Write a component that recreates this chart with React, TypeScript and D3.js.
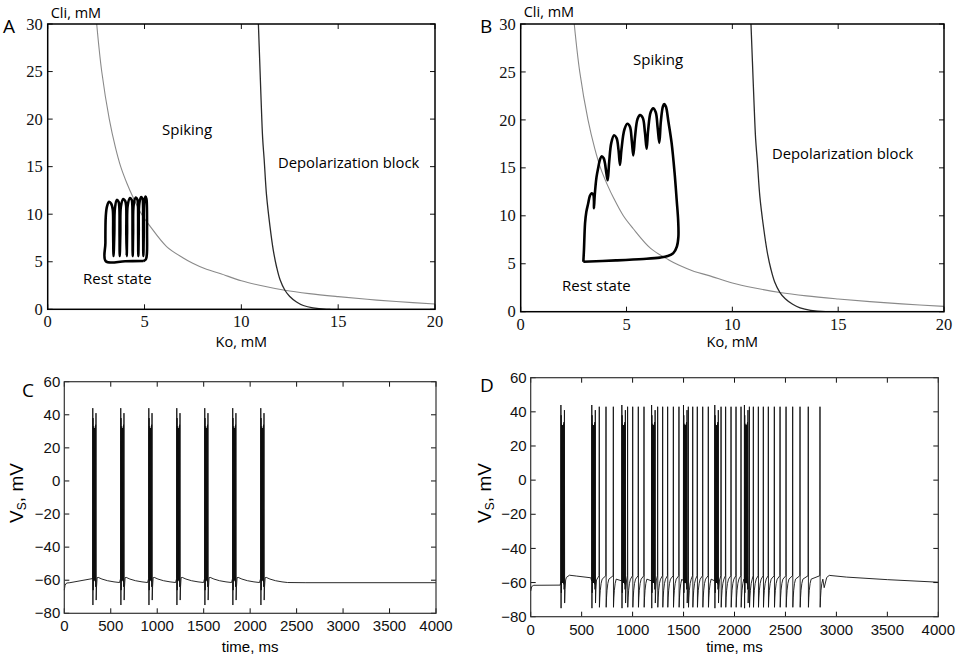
import * as d3 from 'd3';
import React from 'react';

// ---- panels A/B: Ko–Cli plane ----
const koTicks = [0, 5, 10, 15, 20];
const cliTicks = [0, 5, 10, 15, 20, 25, 30];

// gray boundary between rest and spiking
const restBoundary: [number, number][] = [
  [2.53, 30], [2.79, 25], [3.18, 20], [3.5, 17], [3.77, 15], [4.1, 13.2], [4.39, 11.85],
  [4.85, 10], [5.3, 8.7], [6.14, 6.6], [7.0, 5.4], [7.49, 4.84], [8.2, 4.2], [8.9, 3.76],
  [10, 3.0], [11, 2.5], [12.25, 2.0], [13.5, 1.65], [15, 1.33], [16.5, 1.05], [18, 0.82], [20, 0.56],
];

// black boundary between spiking and depolarization block
const blockBoundary: [number, number][] = [
  [10.88, 30], [10.95, 26], [11.02, 22], [11.1, 18], [11.18, 15.7], [11.3, 12], [11.48, 8.7],
  [11.65, 6.2], [11.82, 4.45], [12.0, 3.1], [12.25, 2.0], [12.5, 1.35], [12.85, 0.77],
  [13.2, 0.4], [13.7, 0.14], [14.4, 0], [14.6, 0],
];

// trajectory in panel A
const trajA: [number, number][] = [
  [4.95, 5.08], [4.0, 5.06], [3.0, 5.05], [2.98, 7], [3.0, 9.8], [3.06, 10.8], [3.17, 11.3], [3.28, 11.1],
  [3.36, 10.5], [3.38, 8], [3.4, 5.6], [3.44, 8], [3.47, 10.6], [3.57, 11.5], [3.66, 11.3], [3.7, 10.7],
  [3.71, 8], [3.72, 5.6], [3.75, 8], [3.78, 10.8], [3.9, 11.6], [4.0, 11.4], [4.05, 10.9], [4.06, 8],
  [4.08, 5.6], [4.1, 8], [4.13, 10.9], [4.25, 11.7], [4.34, 11.5], [4.37, 11.0], [4.38, 8], [4.39, 5.6],
  [4.41, 8], [4.44, 11.0], [4.55, 11.75], [4.63, 11.55], [4.66, 11.1], [4.67, 8], [4.68, 5.6], [4.7, 8],
  [4.73, 11.1], [4.83, 11.8], [4.9, 11.6], [4.92, 11.2], [4.93, 8], [4.94, 5.6], [4.96, 8], [4.98, 11.2],
  [5.05, 11.85], [5.1, 11.6], [5.12, 11.0], [5.13, 8], [5.12, 5.8], [5.07, 5.25], [4.95, 5.08],
];

// trajectory in panel B
const trajB: [number, number][] = [
  [2.96, 5.21], [2.99, 6.5], [3.04, 9.2], [3.1, 10.4], [3.19, 11.3], [3.27, 12.1], [3.35, 12.35],
  [3.43, 12.2], [3.46, 11.6], [3.46, 10.78], [3.5, 12.2], [3.58, 14], [3.67, 15.1], [3.75, 15.9],
  [3.83, 16.2], [3.92, 16.0], [3.98, 15.5], [4.05, 14.4], [4.11, 13.7], [4.18, 15.6], [4.28, 17.6],
  [4.41, 18.4], [4.53, 18.1], [4.62, 16.9], [4.69, 15.3], [4.76, 16.9], [4.9, 19.0], [5.04, 19.6],
  [5.16, 19.3], [5.25, 17.8], [5.32, 16.3], [5.4, 18.2], [5.52, 20.1], [5.64, 20.5], [5.77, 20.2],
  [5.87, 18.7], [5.95, 17.0], [6.02, 18.9], [6.14, 20.8], [6.26, 21.2], [6.38, 20.8], [6.47, 19.2],
  [6.55, 17.6], [6.62, 19.8], [6.72, 21.4], [6.78, 21.65], [6.86, 21.4], [6.98, 19.8], [7.13, 17.6],
  [7.27, 14.5], [7.37, 11.65], [7.44, 9.5], [7.45, 7.8], [7.38, 6.8], [7.21, 6.1], [6.95, 5.8],
  [6.58, 5.64], [5.8, 5.5], [4.5, 5.35], [2.96, 5.21],
];

// ---- panels C/D: membrane voltage traces ----
const timeTicks = [0, 500, 1000, 1500, 2000, 2500, 3000, 3500, 4000];
const vTicks = [-80, -60, -40, -20, 0, 20, 40, 60];

// one burst, [ms after onset, mV]
const burstWave: [number, number][] = [
  [0, -59], [1.5, 44], [3, -75], [4.5, 38], [6, -66], [7.5, 33], [9, -60], [10.5, 32], [12, -60],
  [13.5, 32], [15, -60], [16.5, 32], [18, -60], [19.5, 32], [21, -60], [22.5, 32], [24, -60],
  [25.5, 32], [27, -60], [28.5, 33], [30, -61], [31.5, 34], [33, -64], [36, 41], [38, -72],
  [42, -64], [48, -58.5],
];
// slow recovery after a burst in C
const burstDecayC: [number, number][] = [
  [60, -58.3], [100, -59.3], [160, -60.3], [230, -61], [290, -61.4],
];
// single spike with after-hyperpolarization
const spikeWave: [number, number][] = [
  [-2, -56], [0, 43], [1.5, -74.5], [5, -69], [10, -64.5], [18, -60.5], [28, -58],
];

const burstOnsetsC = [305, 606, 908, 1209, 1510, 1811, 2113];
const restC: [number, number][] = [[0, -66], [8, -63], [25, -61.7], [60, -61.5], [2600, -61.5], [4000, -61.5]];

const burstOnsetsD = [295, 598, 893, 1185, 1498, 1805, 2096];
const spikeTimesD = [
  673, 739, 811, 951, 1001, 1056, 1112, 1246, 1295, 1344, 1400, 1455, 1547, 1590, 1635, 1688,
  1743, 1868, 1913, 1966, 2015, 2064, 2146, 2185, 2234, 2283, 2332, 2391, 2447, 2506, 2571,
  2643, 2724, 2839,
];
const restD: [number, number][] = [
  [0, -65], [10, -62.3], [30, -61.6], [290, -61.5], [350, -57], [380, -55.7], [450, -56.2],
  [590, -57.2], [2880, -63], [2905, -57], [2930, -55.8], [3100, -56.8], [3500, -58.3], [4000, -59.8],
];

type Ev = { t: number; wave: [number, number][] };
const buildTrace = (events: Ev[], rest: [number, number][]) => {
  const evs = [...events].sort((a, b) => a.t - b.t);
  const pts: [number, number][] = [];
  evs.forEach((e, i) => {
    const next = i < evs.length - 1 ? evs[i + 1].t + evs[i + 1].wave[0][0] : Infinity;
    e.wave.forEach(([dt, v]) => {
      if (e.t + dt < next) pts.push([e.t + dt, v]);
    });
  });
  rest.forEach((p) => pts.push(p));
  return pts.sort((a, b) => a[0] - b[0]);
};

const traceC = buildTrace(
  burstOnsetsC.map((t) => ({ t, wave: [...burstWave, ...burstDecayC] })),
  restC
);
const traceD = buildTrace(
  [
    ...burstOnsetsD.map((t) => ({ t, wave: burstWave })),
    ...spikeTimesD.map((t) => ({ t, wave: spikeWave })),
  ],
  restD
);

const SANS = "'Open Sans', 'Noto Sans', sans-serif";
const HELV = "'Liberation Sans', Arial, sans-serif";
const SERIF = "'Liberation Serif', 'DejaVu Serif', serif";

type Box = { left: number; right: number; top: number; bottom: number };

const fmt = d3.format('d');

// box with inward ticks on all four sides (MATLAB style)
const Frame = ({ box, x, y, xTicks, yTicks, font, size, padX, padY, color, width }: any) => {
  const tick = 5;
  const txt = { fontFamily: font, fontSize: `${size}px` };
  return (
    <g>
      {xTicks.map((t: number) => (
        <g key={`x${t}`}>
          <line x1={x(t)} x2={x(t)} y1={box.bottom} y2={box.bottom - tick} stroke="#111" />
          <line x1={x(t)} x2={x(t)} y1={box.top} y2={box.top + tick} stroke="#111" />
          <text x={x(t)} y={box.bottom + padX} textAnchor="middle" style={txt} fill="#111">
            {fmt(t)}
          </text>
        </g>
      ))}
      {yTicks.map((t: number) => (
        <g key={`y${t}`}>
          <line x1={box.left} x2={box.left + tick} y1={y(t)} y2={y(t)} stroke="#111" />
          <line x1={box.right} x2={box.right - tick} y1={y(t)} y2={y(t)} stroke="#111" />
          <text x={box.left - padY} y={y(t)} dy="0.34em" textAnchor="end" style={txt} fill="#111">
            {fmt(t)}
          </text>
        </g>
      ))}
      <rect
        x={box.left}
        y={box.top}
        width={box.right - box.left}
        height={box.bottom - box.top}
        fill="none"
        stroke={color}
        strokeWidth={width}
      />
    </g>
  );
};

const PhasePanel = ({ box, traj, letter, labels }: any) => {
  const x = d3.scaleLinear().domain([0, 20]).range([box.left, box.right]);
  const y = d3.scaleLinear().domain([0, 30]).range([box.bottom, box.top]);
  const smooth = d3.line<[number, number]>().x((d) => x(d[0])).y((d) => y(d[1])).curve(d3.curveCatmullRom);
  const clipId = `clip-${letter}`;
  return (
    <g>
      <clipPath id={clipId}>
        <rect x={box.left} y={box.top} width={box.right - box.left} height={box.bottom - box.top} />
      </clipPath>
      <g clipPath={`url(#${clipId})`}>
        <path d={smooth(restBoundary) || ''} fill="none" stroke="#8a8a8a" strokeWidth={1.1} />
        <path d={smooth(blockBoundary) || ''} fill="none" stroke="#2a2a2a" strokeWidth={1.3} />
        <path d={smooth(traj) || ''} fill="none" stroke="#000" strokeWidth={2.6} strokeLinejoin="round" />
      </g>
      <Frame box={box} x={x} y={y} xTicks={koTicks} yTicks={cliTicks} font={SERIF} size={16.5} padX={18} padY={5} color="#000" width={1.5} />
      <text x={labels.letter[0]} y={labels.letter[1]} fontFamily={SANS} fontSize={19}>{letter}</text>
      <text x={box.left + 3} y={labels.cliY} fontFamily={SANS} fontSize={14.5}>Cli, mM</text>
      <text x={(box.left + box.right) / 2} y={347} textAnchor="middle" fontFamily={SANS} fontSize={14.5}>Ko, mM</text>
      <text x={labels.spiking[0]} y={labels.spiking[1]} fontFamily={SANS} fontSize={15}>Spiking</text>
      <text x={labels.block[0]} y={labels.block[1]} fontFamily={SANS} fontSize={14.8}>Depolarization block</text>
      <text x={labels.rest[0]} y={labels.rest[1]} fontFamily={SANS} fontSize={15}>Rest state</text>
    </g>
  );
};

const TracePanel = ({ box, trace, letter, letterPos, yLabelX }: any) => {
  const x = d3.scaleLinear().domain([0, 4000]).range([box.left, box.right]);
  const y = d3.scaleLinear().domain([-80, 60]).range([box.bottom, box.top]);
  const line = d3.line<[number, number]>().x((d) => x(d[0])).y((d) => y(d[1]));
  return (
    <g>
      <path d={line(trace) || ''} fill="none" stroke="#111" strokeWidth={0.9} strokeLinejoin="round" />
      <Frame box={box} x={x} y={y} xTicks={timeTicks} yTicks={vTicks} font={HELV} size={15} padX={18} padY={4} color="#333" width={1.2} />
      <text x={letterPos[0]} y={letterPos[1]} fontFamily={SANS} fontSize={19}>{letter}</text>
      <text
        transform={`translate(${yLabelX},493) rotate(-90)`}
        textAnchor="middle"
        fontFamily={HELV}
        fontSize={19}
      >
        V<tspan fontSize={12} dy={3}>S</tspan><tspan dy={-3}>, mV</tspan>
      </text>
      <text x={(box.left + box.right) / 2} y={652} textAnchor="middle" fontFamily={HELV} fontSize={15}>
        time, ms
      </text>
    </g>
  );
};

export default function App() {
  const boxA: Box = { left: 47.7, right: 435, top: 24, bottom: 309.3 };
  const boxB: Box = { left: 520.7, right: 944, top: 24, bottom: 311.7 };
  const boxC: Box = { left: 64.3, right: 436, top: 381.7, bottom: 613.3 };
  const boxD: Box = { left: 530.7, right: 938.3, top: 377.7, bottom: 616.7 };
  return (
    <div style={{ position: 'absolute', left: 0, top: 0 }}>
      <svg width={964} height={658} style={{ display: 'block', background: '#fff' }}>
        <PhasePanel
          box={boxA}
          traj={trajA}
          letter="A"
          labels={{ letter: [3, 33], cliY: 18, spiking: [162, 135], block: [278, 168], rest: [83, 284] }}
        />
        <PhasePanel
          box={boxB}
          traj={trajB}
          letter="B"
          labels={{ letter: [480, 33], cliY: 17, spiking: [633, 65], block: [772, 159], rest: [562, 291] }}
        />
        <TracePanel box={boxC} trace={traceC} letter="C" letterPos={[22, 397]} yLabelX={23} />
        <TracePanel box={boxD} trace={traceD} letter="D" letterPos={[480, 392]} yLabelX={491} />
      </svg>
    </div>
  );
}
